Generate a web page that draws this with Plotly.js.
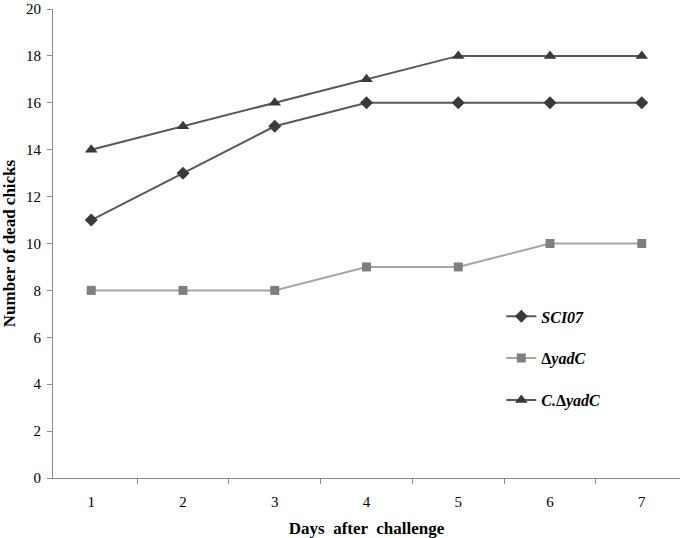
<!DOCTYPE html>
<html>
<head>
<meta charset="utf-8">
<script src="https://cdn.plot.ly/plotly-3.0.1.min.js"></script>
<style>
  body { margin: 0; background: #fff; }
  #myDiv { width: 680px; height: 538px; }
</style>
</head>
<body>
<div id="myDiv"></div>
<script>
// days after challenge
let days = ['1', '2', '3', '4', '5', '6', '7'];
// number of dead chicks per strain
let sci07 = [11, 13, 15, 16, 16, 16, 16];
let yadC = [8, 8, 8, 9, 9, 10, 10];
let compYadC = [14, 15, 16, 17, 18, 18, 18];
let yTicks = [0, 2, 4, 6, 8, 10, 12, 14, 16, 18, 20];

let sciTrace = {
    x: days, y: sci07, mode: 'lines+markers',
    name: '<b><i>SCI07</i></b>', legendgroup: 'a',
    line: { color: '#595959', width: 2 },
    marker: { symbol: 'diamond', size: 10, color: '#3a3a3a' }
};
let yadTrace = {
    x: days, y: yadC, mode: 'lines+markers',
    name: '<b>Δ<i>yadC</i></b>', legendgroup: 'b',
    line: { color: '#a6a6a6', width: 2 },
    marker: { symbol: 'square', size: 9, color: '#7f7f7f' }
};
let compTrace = {
    x: days, y: compYadC, mode: 'lines+markers',
    name: '<b><i>C.</i>Δ<i>yadC</i></b>', legendgroup: 'c',
    line: { color: '#595959', width: 2 },
    marker: { symbol: 'triangle-up', size: 11, color: '#3a3a3a' }
};

let layout = {
    width: 680, height: 538,
    margin: { l: 53, r: 0, t: 9, b: 60 },
    paper_bgcolor: '#fff', plot_bgcolor: '#fff',
    font: { family: 'Liberation Serif, Times New Roman, serif', size: 15, color: '#000' },
    showlegend: true,
    legend: {
        x: 0.715, y: 0.255, xanchor: 'left', yanchor: 'middle',
        tracegroupgap: 18, itemwidth: 30,
        font: { size: 16, color: '#000' },
        bgcolor: 'rgba(0,0,0,0)'
    },
    xaxis: {
        type: 'category',
        title: { text: '<b>Days  after  challenge</b>', font: { size: 17 }, standoff: 14 },
        showgrid: false, zeroline: false,
        showline: true, linecolor: '#8c8c8c', linewidth: 1,
        ticks: 'outside', tickson: 'boundaries', ticklen: 5, tickcolor: '#8c8c8c',
        ticklabelstandoff: 10,
        tickfont: { size: 15 }
    },
    yaxis: {
        title: { text: '<b>Number of dead chicks</b>', font: { size: 17 }, standoff: 12 },
        range: [0, 20], tickvals: yTicks,
        showgrid: false, zeroline: false,
        showline: true, linecolor: '#8c8c8c', linewidth: 1,
        ticks: 'outside', ticklen: 5, tickcolor: '#8c8c8c',
        ticklabelstandoff: 3,
        tickfont: { size: 15 }
    }
};

Plotly.newPlot('myDiv', [sciTrace, yadTrace, compTrace], layout, { displayModeBar: false });
</script>
</body>
</html>
